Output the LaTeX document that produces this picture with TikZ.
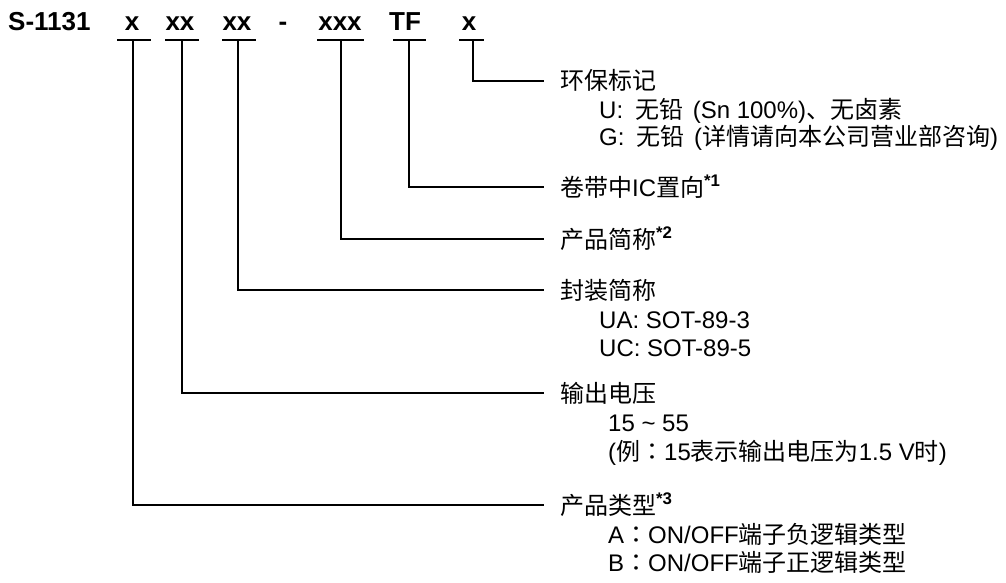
\documentclass[tikz,border=0pt]{standalone}
\usepackage{fontspec}
\setmainfont{Liberation Sans}
\newfontfamily\cjk{Noto Sans CJK SC}
\newfontfamily\cjktc{Noto Sans CJK TC}
\newcommand\zh[1]{{\cjk #1}}
\newcommand\colonzh{{\cjktc ：}}
\tikzset{code/.style = {inner sep=0pt, anchor=base, font=\fontsize{26}{30}\selectfont\bfseries},
         head/.style = {anchor=west, inner xsep=16pt, inner ysep=0pt, text height=21pt, text depth=3pt, font=\fontsize{24}{28}\selectfont},
         item/.style = {anchor=west, inner sep=0pt, text height=21pt, text depth=3pt, font=\fontsize{24}{28}\selectfont},
         lead/.style = {line width=1.9pt}}

\begin{document}
\begin{tikzpicture}[x=1pt,y=-1pt]
    \useasboundingbox (0,0) rectangle (1006,583);
    \node[code, anchor=base west](model)at(8,31){S-1131};
    \node[code](c1)at(132,31){x};
    \node[code](c2)at(180,31){xx};
    \node[code](c3)at(237,31){xx};
    \node[code](dash)at(283,31){-};
    \node[code](c4)at(340,31){xxx};
    \node[code](c5)at(405,31){TF};
    \node[code](c6)at(469,31){x};
    \foreach \a/\b in {117/151,165/199,222/256,317/364,393/426,459/484}
        \draw[lead](\a,40)--(\b,40);
    \coordinate(t1)at(133,40);
    \coordinate(t2)at(182,40);
    \coordinate(t3)at(238,40);
    \coordinate(t4)at(341,40);
    \coordinate(t5)at(409,40);
    \coordinate(t6)at(473,40);

    \node[head](h6)at(544,81){\zh{环保标记}};
    \node[item](h6u)at(599,109){U:\hspace{0.5em}\zh{无铅}\hspace{0.4em}(Sn 100\%)\zh{、无卤素}};
    \node[item](h6g)at(599,137){G:\hspace{0.5em}\zh{无铅}\hspace{0.4em}(\zh{详情请向本公司营业部咨询})};
    \node[head](h5)at(544,187){\zh{卷带中}IC\zh{置向}\textsuperscript{\bfseries *1}};
    \node[head](h4)at(544,239){\zh{产品简称}\textsuperscript{\bfseries *2}};
    \node[head](h3)at(544,290){\zh{封装简称}};
    \node[item](h3a)at(599,319){UA: SOT-89-3};
    \node[item](h3c)at(599,347){UC: SOT-89-5};
    \node[head](h2)at(544,393){\zh{输出电压}};
    \node[item](h2r)at(608,422){15 \textasciitilde{} 55};
    \node[item](h2e)at(608,451){(\zh{例}\colonzh 15\zh{表示输出电压为}1.5 V\zh{时})};
    \node[head](h1)at(544,505){\zh{产品类型}\textsuperscript{\bfseries *3}};
    \node[item](h1a)at(608,534){A\colonzh ON/OFF\zh{端子负逻辑类型}};
    \node[item](h1b)at(608,562){B\colonzh ON/OFF\zh{端子正逻辑类型}};

    \draw[lead](t1)|-(h1.west);
    \draw[lead](t2)|-(h2.west);
    \draw[lead](t3)|-(h3.west);
    \draw[lead](t4)|-(h4.west);
    \draw[lead](t5)|-(h5.west);
    \draw[lead](t6)|-(h6.west);
\end{tikzpicture}
\end{document}
